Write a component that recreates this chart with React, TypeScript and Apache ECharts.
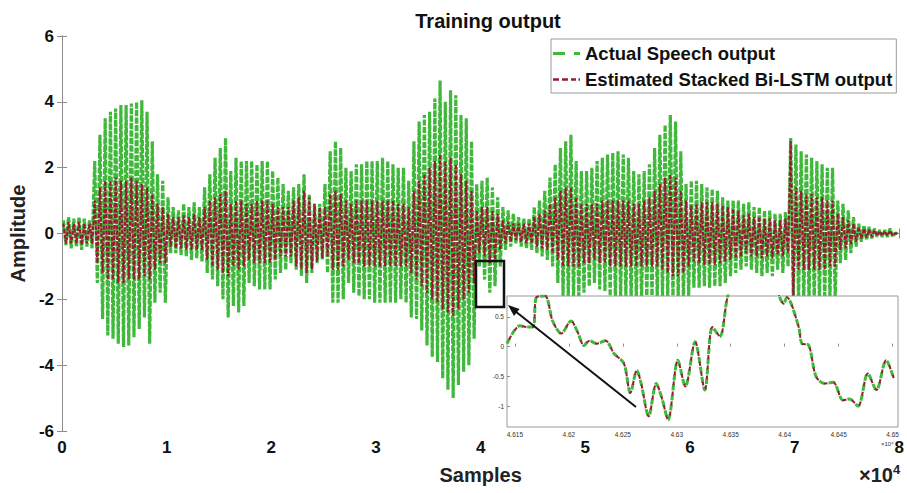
import { useEffect, useRef } from "react";
import * as echarts from "echarts";

// x unit: 10^4 samples. Each bin is 0.05 wide (500 samples); values are the
// upper / lower envelope of the waveform.
const binWidth = 0.05;

const actualUpper = [
  0.4, 0.5, 0.45, 0.5, 0.45, 0.4, 2.2, 3.0, 3.5, 3.7,
  3.8, 3.9, 3.9, 3.95, 4.0, 4.05, 3.7, 2.8, 1.8, 1.6,
  1.1, 0.8, 0.7, 0.9, 0.8, 0.95, 0.8, 1.4, 1.8, 2.3,
  2.6, 2.9, 1.9, 2.3, 2.2, 2.2, 2.2, 2.1, 2.2, 2.2,
  1.9, 1.7, 1.5, 1.3, 1.4, 1.5, 1.8, 1.2, 0.9, 0.9,
  1.5, 2.5, 2.8, 2.6, 2.0, 1.9, 2.1, 2.1, 2.2, 2.2,
  2.2, 2.3, 2.2, 2.1, 2.0, 2.0, 1.6, 2.8, 3.4, 3.6,
  3.7, 4.1, 4.65, 4.0, 4.35, 4.2, 3.6, 3.5, 2.8, 1.5,
  1.6, 1.7, 1.4, 1.1, 0.8, 0.7, 0.6, 0.5, 0.45, 0.45,
  0.8, 1.0, 1.3, 1.7, 2.1, 2.6, 2.8, 3.0, 2.2, 1.9,
  1.9, 2.0, 2.2, 2.3, 2.4, 2.45, 2.5, 2.4, 2.3, 1.9,
  1.8, 1.9, 2.1, 2.6, 3.0, 3.3, 3.6, 3.4, 2.5, 1.5,
  1.6, 1.6, 1.5, 1.4, 1.35, 1.3, 1.1, 1.0, 1.0, 1.0,
  0.9, 0.95, 0.8, 0.8, 0.7, 0.7, 0.6, 0.6, 0.65, 2.9,
  2.7, 2.5, 2.4, 2.3, 2.2, 2.1, 2.0, 2.0, 1.0, 0.9,
  0.7, 0.5, 0.3, 0.25, 0.2, 0.15, 0.1, 0.1, 0.15, 0.02,
];

const actualLower = [
  -0.35, -0.45, -0.4, -0.5, -0.4, -0.45, -1.5, -2.6, -3.1, -3.2,
  -3.35, -3.45, -3.4, -3.15, -2.9, -2.55, -3.35, -2.1, -1.8, -2.1,
  -0.6, -0.6, -0.65, -0.7, -0.8, -0.75, -0.85, -1.2, -1.4, -1.6,
  -2.0, -2.55, -2.2, -2.4, -2.2, -1.5, -1.6, -1.7, -1.7, -1.7,
  -1.4, -1.2, -1.1, -0.9, -1.1, -1.3, -1.5, -1.2, -0.9, -0.8,
  -1.2, -2.1, -2.1, -2.0, -1.5, -1.8, -1.9, -2.0, -2.0, -2.1,
  -2.1, -2.1, -2.1, -2.1, -2.0, -2.1, -2.55, -2.6, -2.95, -3.4,
  -3.75, -3.9, -4.4, -4.75, -5.0, -4.6, -4.2, -4.0, -3.2, -1.0,
  -1.4, -1.8, -1.6, -1.0, -0.5, -0.4, -0.3, -0.4, -0.45, -0.5,
  -0.6, -0.7, -0.8, -1.0, -1.5, -1.9, -2.0, -2.0, -2.0, -1.8,
  -1.6, -1.5, -1.7, -1.75, -1.9, -2.0, -2.0, -1.9, -2.0, -2.0,
  -2.0, -2.0, -2.0, -2.0, -2.0, -2.0, -2.0, -2.0, -2.0, -1.9,
  -1.65, -1.65, -1.6, -1.65, -1.6, -1.6, -1.5, -1.3, -1.2, -1.1,
  -1.0, -1.1, -1.2, -1.3, -1.2, -1.3, -1.1, -1.2, -1.0, -2.0,
  -2.1, -2.1, -2.1, -2.1, -2.1, -2.1, -2.0, -2.0, -0.9, -0.8,
  -0.6, -0.4, -0.25, -0.2, -0.15, -0.1, -0.1, -0.1, -0.1, -0.02,
];

const estimatedUpper = [
  0.3, 0.35, 0.3, 0.35, 0.3, 0.3, 1.0, 1.4, 1.6, 1.6,
  1.7, 1.6, 1.6, 1.7, 1.6, 1.5, 1.4, 1.2, 0.9, 0.8,
  0.6, 0.5, 0.5, 0.55, 0.5, 0.6, 0.5, 0.8, 1.0, 1.1,
  1.2, 1.3, 0.9, 1.0, 1.0, 0.9, 0.9, 1.0, 1.0, 1.0,
  0.9, 0.8, 0.8, 0.8, 1.0, 1.1, 1.3, 1.1, 0.9, 0.8,
  0.8, 1.2, 1.3, 1.2, 1.0, 0.9, 1.0, 1.0, 1.0, 1.0,
  1.0, 1.0, 1.0, 1.0, 0.9, 0.9, 0.8, 1.3, 1.6, 1.8,
  2.0, 2.2, 2.4, 2.2, 2.3, 2.1, 1.8, 1.6, 1.3, 0.7,
  0.8, 0.8, 0.7, 0.6, 0.4, 0.35, 0.3, 0.3, 0.3, 0.3,
  0.5, 0.6, 0.7, 0.9, 1.1, 1.3, 1.4, 1.4, 1.1, 0.9,
  0.9, 0.9, 0.9, 1.0, 1.0, 1.0, 1.0, 1.0, 1.0, 0.9,
  0.9, 1.0, 1.1, 1.3, 1.5, 1.7, 1.8, 1.7, 1.3, 1.0,
  0.85, 0.9, 0.95, 0.95, 0.95, 0.9, 0.85, 0.8, 0.75, 0.7,
  0.55, 0.6, 0.5, 0.5, 0.45, 0.45, 0.4, 0.4, 0.45, 2.8,
  1.4, 1.3, 1.2, 1.2, 1.1, 1.1, 1.0, 1.0, 0.6, 0.5,
  0.4, 0.3, 0.2, 0.15, 0.12, 0.1, 0.07, 0.07, 0.08, 0.01,
];

const estimatedLower = [
  -0.3, -0.3, -0.3, -0.35, -0.3, -0.3, -0.9, -1.2, -1.4, -1.4,
  -1.5, -1.5, -1.4, -1.4, -1.4, -1.3, -1.4, -1.1, -0.9, -0.9,
  -0.4, -0.45, -0.45, -0.5, -0.5, -0.5, -0.5, -0.8, -1.0, -1.1,
  -1.2, -1.3, -1.0, -1.1, -1.0, -0.8, -0.9, -0.9, -0.9, -0.9,
  -0.8, -0.7, -0.7, -0.7, -1.0, -1.1, -1.2, -1.1, -0.85, -0.75,
  -0.7, -1.1, -1.1, -1.0, -0.8, -0.9, -0.9, -1.0, -1.0, -1.0,
  -1.0, -1.0, -1.0, -1.0, -1.0, -1.0, -1.2, -1.4, -1.6, -1.8,
  -2.0, -2.1, -2.3, -2.4, -2.5, -2.3, -2.0, -1.8, -1.5, -0.6,
  -0.7, -0.9, -0.8, -0.5, -0.3, -0.25, -0.2, -0.25, -0.3, -0.3,
  -0.4, -0.45, -0.5, -0.6, -0.8, -1.0, -1.0, -1.0, -1.0, -0.9,
  -0.9, -0.8, -0.9, -0.9, -1.0, -1.0, -1.0, -1.0, -1.0, -1.0,
  -1.0, -1.0, -1.0, -1.0, -1.1, -1.2, -1.3, -1.3, -1.2, -1.0,
  -0.85, -0.9, -0.95, -0.95, -0.95, -0.9, -0.85, -0.8, -0.75, -0.7,
  -0.6, -0.7, -0.7, -0.75, -0.7, -0.75, -0.65, -0.7, -0.6, -2.0,
  -1.1, -1.1, -1.1, -1.1, -1.1, -1.1, -1.0, -1.0, -0.5, -0.45,
  -0.35, -0.25, -0.15, -0.12, -0.1, -0.07, -0.07, -0.07, -0.06, -0.01,
];

// Zoomed inset (x in 10^4 samples)
const insetX = [
  4.61427, 4.61546, 4.6161, 4.6167, 4.617, 4.6178, 4.6185, 4.6193, 4.6202, 4.6208,
  4.6214, 4.6219, 4.6226, 4.6234, 4.6242, 4.6251, 4.6257, 4.6263, 4.6267, 4.6274,
  4.6281, 4.6286, 4.6292, 4.6301, 4.6308, 4.6317, 4.6326, 4.6333, 4.634, 4.6347,
  4.6356, 4.6374, 4.6391, 4.6395, 4.6399, 4.6402, 4.6413, 4.6416, 4.6422, 4.6429,
  4.6437, 4.6445, 4.6454, 4.646, 4.6468, 4.6477, 4.6485, 4.6494, 4.6501,
];
const insetY = [
  0.05, 0.35, 0.33, 0.33, 0.83, 0.85, 0.43, 0.22, 0.43, 0.25,
  0.02, 0.1, 0.05, 0.1, -0.12, -0.28, -0.78, -0.4, -0.62, -1.17,
  -0.62, -0.85, -1.23, -0.23, -0.67, 0.08, -0.73, 0.33, 0.17, 0.83,
  1.3, 1.6, 1.2, 0.85, 0.72, 0.83, 0.33, 0.05, 0.03, -0.5,
  -0.62, -0.6, -0.9, -0.88, -1.0, -0.45, -0.73, -0.23, -0.53,
];
const insetXTicks = [4.615, 4.62, 4.625, 4.63, 4.635, 4.64, 4.645, 4.65];
const insetYTicks = [-1, -0.5, 0, 0.5];

const GREEN = "#3fb83b";
const RED = "#9a1a33";
const FONT = "'Liberation Sans', Arial, Helvetica, sans-serif";

function toZigzag(upper: number[], lower: number[]) {
  const out: number[][] = [];
  upper.forEach((u, i) => {
    out.push([i * binWidth + binWidth * 0.25, u]);
    out.push([i * binWidth + binWidth * 0.75, lower[i]]);
  });
  return out;
}

export default function App() {
  const ref = useRef<HTMLDivElement>(null);
  useEffect(() => {
    if (!ref.current) return;
    const chart = echarts.init(ref.current, undefined, { renderer: "svg" });
    const axisGray = "#8c8c8c";
    const insetLeft = 507;
    const insetTop = 296;
    const insetW = 391;
    const insetH = 131;
    const insetData = insetX.map((x, i) => [x, insetY[i]]);

    chart.setOption({
      animation: false,
      backgroundColor: "#fff",
      title: {
        text: "Training output",
        left: 483,
        top: 6,
        textAlign: "center",
        textStyle: { fontFamily: FONT, fontWeight: "bold", fontSize: 20, color: "#111" },
      },
      legend: {
        orient: "vertical",
        left: 551,
        top: 39,
        padding: [5, 4, 4, 2],
        itemGap: 7,
        itemWidth: 27,
        itemHeight: 14,
        borderColor: "#9a9a9a",
        borderWidth: 1,
        backgroundColor: "#fff",
        textStyle: { fontFamily: FONT, fontWeight: "bold", fontSize: 18.5, color: "#111" },
        data: [
          { name: "Actual Speech output", icon: "path://M0,0h12v3h-12z M21,0h6v3h-6z" },
          { name: "Estimated Stacked Bi-LSTM output", icon: "path://M0,0h6v2.4h-6z M9,0h6v2.4h-6z M18,0h5v2.4h-5z M25.5,0h1.5v2.4h-1.5z" },
        ],
      },
      grid: [
        { left: 61, top: 36, width: 841, height: 395 },
        { left: insetLeft, top: insetTop, width: insetW, height: insetH },
      ],
      xAxis: [
        {
          type: "value", gridIndex: 0, min: 0, max: 8, interval: 1,
          name: "Samples", nameLocation: "middle", nameGap: 34,
          nameTextStyle: { fontFamily: FONT, fontWeight: "bold", fontSize: 20, color: "#222" },
          axisLine: { lineStyle: { color: axisGray } },
          axisTick: { inside: true, length: 5, lineStyle: { color: axisGray } },
          axisLabel: { fontFamily: FONT, fontWeight: "bold", fontSize: 17, color: "#111", margin: 8 },
          splitLine: { show: false },
        },
        {
          type: "value", gridIndex: 0, position: "top", min: 0, max: 8, interval: 1,
          axisLine: { lineStyle: { color: axisGray } },
          axisTick: { inside: true, length: 5, lineStyle: { color: axisGray } },
          axisLabel: { show: false }, splitLine: { show: false },
        },
        {
          type: "value", gridIndex: 1, min: 4.61427, max: 4.6505, z: 60,
          axisLine: { show: false },
          axisTick: { inside: true, length: 3, lineStyle: { color: axisGray }, customValues: insetXTicks },
          axisLabel: {
            fontFamily: FONT, fontSize: 6.5, color: "#333", margin: 4, customValues: insetXTicks,
            formatter: (v: number) => String(Math.round(v * 1000) / 1000),
          },
          splitLine: { show: false },
        },
      ],
      yAxis: [
        {
          type: "value", gridIndex: 0, min: -6, max: 6, interval: 2,
          name: "Amplitude", nameLocation: "middle", nameGap: 28,
          nameTextStyle: { fontFamily: FONT, fontWeight: "bold", fontSize: 20, color: "#222" },
          axisLine: { lineStyle: { color: axisGray } },
          axisTick: { inside: true, length: 5, lineStyle: { color: axisGray } },
          axisLabel: { fontFamily: FONT, fontWeight: "bold", fontSize: 17, color: "#111", margin: 8 },
          splitLine: { show: false },
        },
        {
          type: "value", gridIndex: 0, position: "right", min: -6, max: 6, interval: 2,
          axisLine: { lineStyle: { color: axisGray } },
          axisTick: { inside: true, length: 5, lineStyle: { color: axisGray } },
          axisLabel: { show: false }, splitLine: { show: false },
        },
        {
          type: "value", gridIndex: 1, min: -1.35, max: 0.85, z: 60,
          axisLine: { show: false },
          axisTick: { inside: true, length: 3, lineStyle: { color: axisGray }, customValues: insetYTicks },
          axisLabel: { fontFamily: FONT, fontSize: 6.5, color: "#333", margin: 3, customValues: insetYTicks },
          splitLine: { show: false },
        },
      ],
      graphic: [
        {
          type: "rect", z: 50,
          shape: { x: insetLeft, y: insetTop, width: insetW, height: insetH },
          style: { fill: "#fff", stroke: "#999", lineWidth: 1 },
        },
        {
          type: "rect", z: 70,
          shape: { x: 476, y: 261, width: 28, height: 46 },
          style: { fill: "none", stroke: "#111", lineWidth: 2.5 },
        },
        {
          type: "line", z: 70,
          shape: { x1: 636, y1: 407, x2: 515, y2: 311 },
          style: { stroke: "#111", lineWidth: 2 },
        },
        {
          type: "polygon", z: 70,
          shape: { points: [[508, 305], [519.5, 309], [514, 316]] },
          style: { fill: "#111" },
        },
        {
          type: "text", z: 70, left: 859, top: 463,
          style: {
            text: "×10{s|4}",
            fontFamily: FONT, fontWeight: "bold", fontSize: 20, fill: "#222",
            rich: { s: { fontSize: 13, fontWeight: "bold", verticalAlign: "top", fontFamily: FONT, fill: "#222", padding: [0, 0, 10, 0] } },
          },
        },
        {
          type: "text", z: 70, left: 881, top: 441,
          style: { text: "×10⁴", fontFamily: FONT, fontSize: 6, fill: "#333" },
        },
      ],
      series: [
        {
          type: "line", name: "Actual Speech output", xAxisIndex: 0, yAxisIndex: 0,
          data: toZigzag(actualUpper, actualLower), symbol: "none", z: 2,
          lineStyle: { color: GREEN, width: 3.2, type: [6, 1.5] },
          itemStyle: { color: GREEN },
        },
        {
          type: "line", name: "Estimated Stacked Bi-LSTM output", xAxisIndex: 0, yAxisIndex: 0,
          data: toZigzag(estimatedUpper, estimatedLower), symbol: "none", z: 3,
          lineStyle: { color: RED, width: 2.1, type: [4, 1.5] },
          itemStyle: { color: RED },
        },
        {
          type: "line", name: "inset-actual", xAxisIndex: 2, yAxisIndex: 2,
          data: insetData, symbol: "none", z: 60, smooth: 0.3,
          lineStyle: { color: GREEN, width: 3, type: [6, 4] },
        },
        {
          type: "line", name: "inset-estimated", xAxisIndex: 2, yAxisIndex: 2,
          data: insetData, symbol: "none", z: 61, smooth: 0.3,
          lineStyle: { color: RED, width: 2, type: [4, 6], dashOffset: 5 },
        },
      ],
    });
    return () => chart.dispose();
  }, []);
  return (
    <div
      ref={ref}
      style={{ position: "fixed", left: 0, top: 0, width: 907, height: 493, background: "#fff" }}
    />
  );
}
